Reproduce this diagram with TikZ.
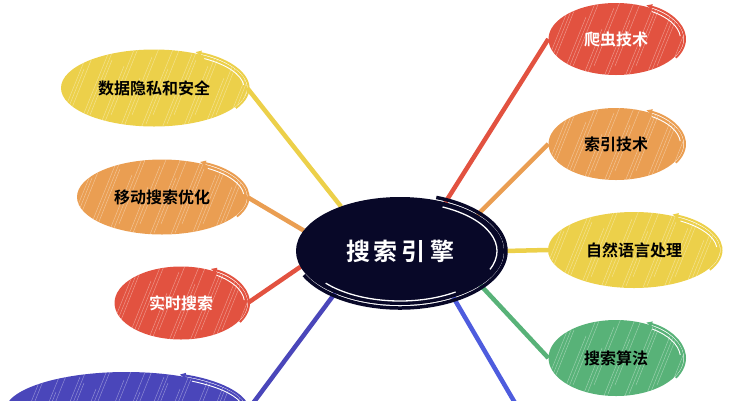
\documentclass[tikz,border=0pt]{standalone}
\usepackage{fontspec}
\newfontfamily\cjk{Noto Sans CJK SC}[BoldFont={Noto Sans CJK SC Bold}]
\usetikzlibrary{shapes.geometric,backgrounds,arrows.meta}

\definecolor{hubnavy}{RGB}{8,8,40}
\definecolor{mapred}{RGB}{226,82,64}
\definecolor{maporange}{RGB}{234,158,82}
\definecolor{mapyellow}{RGB}{236,208,74}
\definecolor{mapgreen}{RGB}{88,178,120}
\definecolor{mapblue}{RGB}{74,70,186}
\definecolor{lineblue}{RGB}{78,92,222}

% hand drawn rim: node, colour, half width, half height
\newcommand{\leafrim}[4]{%
  \begin{scope}[shift={(#1.center)},x=1pt,y=1pt]
  \draw[#2,line width=2pt,{Triangle[length=6pt,width=5pt]}-]
    (64:#3+1.5 and #4+1.5) arc[start angle=64,end angle=-30,x radius=#3+1.5,y radius=#4+1.5];
  \draw[white,line width=.9pt]
    (56:#3-3 and #4-3) arc[start angle=56,end angle=5,x radius=#3-3,y radius=#4-3];
  \end{scope}}

\begin{document}
\begin{tikzpicture}[x=1pt,y=-1pt,
  leaf/.style={ellipse,inner sep=0pt,text=black,
    font=\cjk\bfseries\fontsize{16}{16}\selectfont,
    path picture={
      \foreach \k [evaluate=\k as \dy using {mod(\k,3)*9},
                   evaluate=\k as \dl using {mod(\k,4)}] in {0,...,30}
        \draw[white,opacity=.38,line width=.5pt]
          ([xshift=\k*7pt-120pt,yshift=\dy pt-45pt]path picture bounding box.center)
          -- ++(22pt+\dl*5pt,55pt+\dl*12pt);}},
  branch/.style={line width=4.5pt}]

\useasboundingbox (0,0) rectangle (730,400);
\clip (0,0) rectangle (730,400);

% Central node
\node[ellipse,fill=hubnavy,draw=hubnavy,line width=2pt,inner sep=0pt,
  minimum width=206pt,minimum height=106pt,text=white,
  font=\cjk\bfseries\fontsize{24}{24}\selectfont] (hub) at (400,251) {搜\,索\,引\,擎};

% Right side
\node[leaf,fill=mapred,text=white,minimum width=135pt,minimum height=72pt] (crawl) at (616,39) {爬虫技术};
\node[leaf,fill=maporange,minimum width=135pt,minimum height=72pt] (index) at (616,144) {索引技术};
\node[leaf,fill=mapyellow,minimum width=172pt,minimum height=76pt] (nlp) at (634,250) {自然语言处理};
\node[leaf,fill=mapgreen,minimum width=135pt,minimum height=76pt] (algo) at (616,358) {搜索算法};

% Left side
\node[leaf,fill=mapyellow,minimum width=186pt,minimum height=77pt] (privacy) at (154,88) {数据隐私和安全};
\node[leaf,fill=maporange,minimum width=170pt,minimum height=75pt] (mobile) at (162,197) {移动搜索优化};
\node[leaf,fill=mapred,text=white,minimum width=133pt,minimum height=73pt] (realtime) at (181,303) {实时搜索};
\node[leaf,fill=mapblue,minimum width=242pt,minimum height=78pt] (lowleft) at (126,411) {};
\coordinate (lowright) at (525,420);

% Branches
\begin{scope}[on background layer]
\draw[branch,mapred] (hub.47) -- (crawl.west);
\draw[branch,maporange] (hub.25) -- (index.west);
\draw[branch,mapyellow] (hub.0) -- (nlp.west);
\draw[branch,mapgreen] (hub.-23) -- (algo.west);
\draw[branch,lineblue] (hub.-41) -- (lowright);
\draw[branch,mapyellow] (hub.143) -- (privacy.east);
\draw[branch,maporange] (hub.168) -- (mobile.east);
\draw[branch,mapred] (hub.189) -- (realtime.east);
\draw[branch,mapblue] (hub.213) -- (lowleft.east);
\end{scope}

% Rims
\leafrim{crawl}{mapred}{67.5}{36}
\leafrim{index}{maporange}{67.5}{36}
\leafrim{nlp}{mapyellow}{86}{38}
\leafrim{algo}{mapgreen}{67.5}{38}
\leafrim{privacy}{mapyellow}{93}{38.5}
\leafrim{mobile}{maporange}{85}{37.5}
\leafrim{realtime}{mapred}{66.5}{36.5}
\leafrim{lowleft}{mapblue}{121}{39}

% Hub rim and highlight
\begin{scope}[shift={(hub.center)},x=1pt,y=1pt]
\draw[hubnavy,line width=3.5pt] (70:106pt and 57pt) arc[start angle=70,end angle=-155,x radius=106pt,y radius=57pt];
\draw[white,line width=1.3pt] (64:97pt and 49pt) arc[start angle=64,end angle=-22,x radius=97pt,y radius=49pt];
\draw[white,line width=1.3pt] (-55:97pt and 50pt) arc[start angle=-55,end angle=-140,x radius=97pt,y radius=50pt];
\end{scope}

\end{tikzpicture}
\end{document}
